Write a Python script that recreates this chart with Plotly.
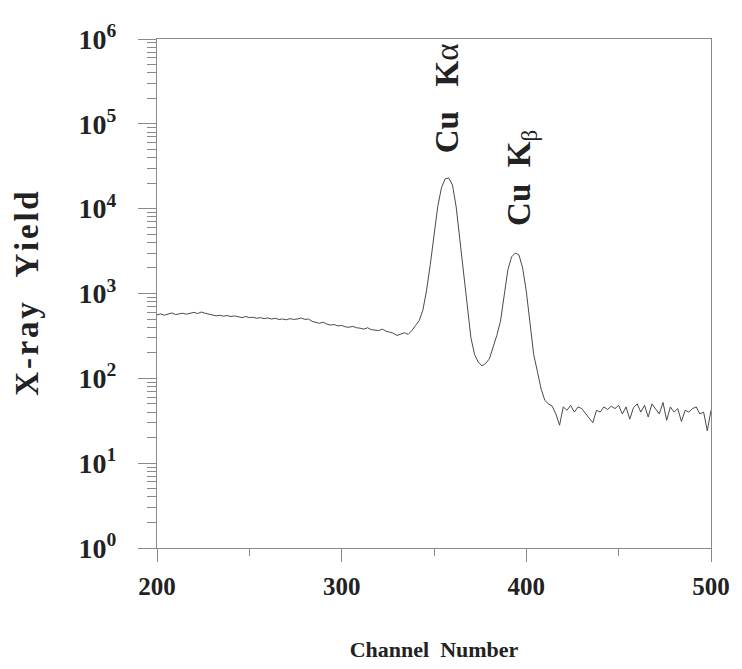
import plotly.graph_objects as go

# Channel numbers (every 2 channels) and X-ray yield
channels = list(range(200, 502, 2))
counts = [
    560, 575, 555, 570, 590, 565, 575, 585, 570, 590,   # 200-218
    600, 580, 605, 585, 570, 560, 545, 555, 540, 550,   # 220-238
    535, 545, 530, 520, 535, 520, 525, 510, 520, 505,   # 240-258
    515, 500, 510, 495, 500, 490, 505, 495, 500, 515,   # 260-278
    495, 500, 470, 455, 445, 460, 435, 425, 430, 415,   # 280-298
    420, 405, 400, 410, 395, 390, 380, 395, 375, 370,   # 300-318
    365, 380, 360, 350, 340, 320, 330, 345, 330, 365,   # 320-338
    420, 480, 640, 1100, 2200, 4800, 10500, 17500, 22500, 23000,  # 340-358
    19000, 10500, 4200, 1700, 720, 300, 190, 155, 140, 150,      # 360-378
    170, 230, 320, 470, 1000, 1900, 2700, 3000, 2850, 2000,      # 380-398
    1050, 450, 190, 120, 75, 55, 50, 47, 38, 28,                 # 400-418
    46, 42, 48, 40, 46, 44, 38, 34, 30, 42,   # 420-438
    40, 46, 43, 47, 44, 48, 38, 46, 33, 45,   # 440-458
    50, 40, 48, 35, 50, 44, 38, 52, 32, 46,   # 460-478
    40, 44, 31, 42, 40, 44, 46, 38, 40, 24,   # 480-498
    42,                                        # 500
]

x_ticks = [200, 300, 400, 500]
x_minor = [250, 350, 450]
y_ticks = [1, 10, 100, 1000, 10000, 100000, 1000000]
y_labels = ["<b>10<sup>0</sup></b>", "<b>10<sup>1</sup></b>", "<b>10<sup>2</sup></b>",
            "<b>10<sup>3</sup></b>", "<b>10<sup>4</sup></b>", "<b>10<sup>5</sup></b>",
            "<b>10<sup>6</sup></b>"]
y_minor = [m * 10 ** e for e in range(0, 6) for m in range(2, 10)]

FONT = "Liberation Serif"
INK = "#222222"
AXIS = "#8a8a8a"
HS = "\u200a"  # hair space, used as a little letter spacing

fig = go.Figure()
fig.add_trace(go.Scatter(
    x=channels, y=counts, mode="lines",
    line=dict(color="#4a4a4a", width=1),
    showlegend=False, hoverinfo="skip",
))

y_title = HS.join("X-ray") + "&nbsp;&nbsp;&nbsp;" + HS.join("Yield")

# the page body adds 8 px on the top/left, so the figure is 8 px smaller
fig.update_layout(
    width=734, height=661,
    paper_bgcolor="white", plot_bgcolor="white",
    margin=dict(l=149, r=25, t=28, b=121),
    font=dict(family=FONT, color=INK, size=20),
    xaxis=dict(
        range=[200, 500], tickmode="array", tickvals=x_ticks,
        ticktext=["<b>%d</b>" % v for v in x_ticks],
        ticks="outside", ticklen=13, tickwidth=1, tickcolor=AXIS,
        minor=dict(tickvals=x_minor, ticks="outside", ticklen=7,
                   tickwidth=1, tickcolor=AXIS, showgrid=False),
        showline=True, linecolor=AXIS, linewidth=1, mirror=True,
        showgrid=False, zeroline=False, ticklabeloverflow="allow",
        ticklabelstandoff=3,
        tickfont=dict(family=FONT, size=25, color=INK),
        title=dict(text="<b>Channel&nbsp;&nbsp;Number</b>",
                   font=dict(family=FONT, size=22, color=INK), standoff=42),
    ),
    yaxis=dict(
        type="log", range=[0, 6], tickmode="array", tickvals=y_ticks,
        ticktext=y_labels,
        ticks="outside", ticklen=18, tickwidth=1, tickcolor=AXIS,
        minor=dict(tickvals=y_minor, ticks="outside", ticklen=9,
                   tickwidth=1, tickcolor=AXIS, showgrid=False),
        showline=True, linecolor=AXIS, linewidth=1, mirror=True,
        showgrid=False, zeroline=False, ticklabelstandoff=16,
        tickfont=dict(family=FONT, size=28, color=INK),
        title=dict(text="<b>" + y_title + "</b>",
                   font=dict(family=FONT, size=33, color=INK), standoff=30),
    ),
)

fig.add_annotation(x=357, y=5.3, xref="x", yref="y",
                   text="<b>Cu&nbsp;&nbsp;&nbsp;K</b>α", textangle=-90,
                   showarrow=False, font=dict(family=FONT, size=33, color=INK))
fig.add_annotation(x=397, y=4.36, xref="x", yref="y",
                   text="<b>Cu&nbsp;&nbsp;K</b><sub>β</sub>", textangle=-90,
                   showarrow=False, font=dict(family=FONT, size=33, color=INK))

fig.write_html("out.html")
